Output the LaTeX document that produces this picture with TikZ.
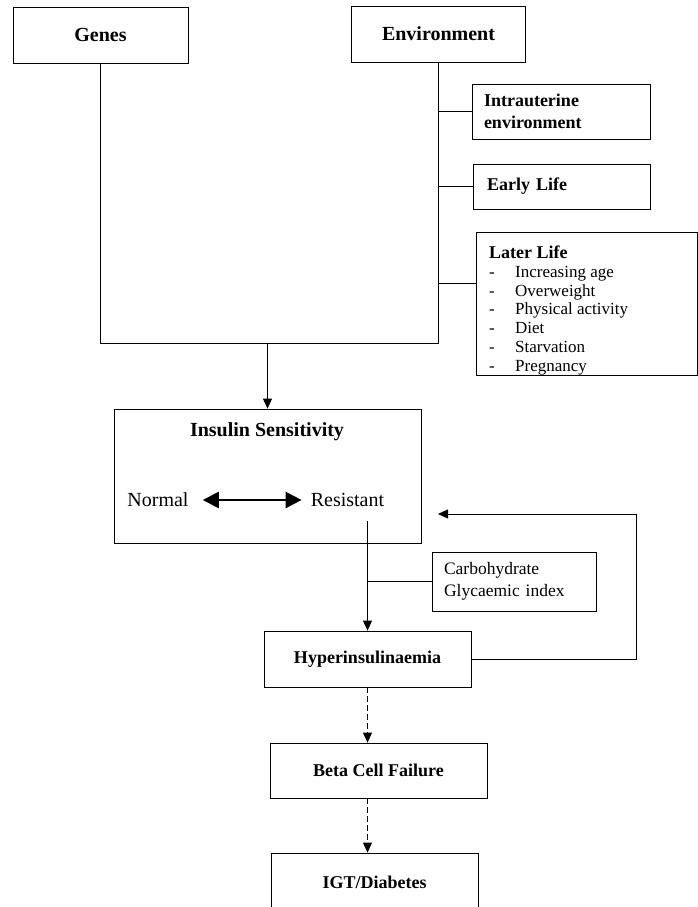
\documentclass[tikz,border=0pt]{standalone}
\usepackage{fontspec}
\setmainfont{Liberation Serif}
\usetikzlibrary{arrows.meta}
\tikzset{
  bx/.style={draw, line width=0.8pt, inner sep=0pt},
  bigbold/.style={font=\fontsize{20}{24}\selectfont\bfseries},
  midbold/.style={font=\fontsize{18}{22}\selectfont\bfseries},
  plaintxt/.style={font=\fontsize{17.5}{22}\selectfont},
  bigplain/.style={font=\fontsize{20}{24}\selectfont},
  ln/.style={line width=0.8pt},
  arr/.style={ln, -{Triangle[length=10pt,width=9pt]}},
  darr/.style={arr, dash pattern=on 6pt off 3pt},
  dbl/.style={line width=2.5pt, {Triangle[length=16pt,width=16pt]}-{Triangle[length=16pt,width=16pt]}}
}
\begin{document}
\begin{tikzpicture}[x=1pt,y=-1pt]
\useasboundingbox (0,0) rectangle (698,907);
\clip (0,0) rectangle (698,907);

% top boxes
\node[bx,bigbold,minimum width=175pt,minimum height=56pt] (genes) at (100.5,35) {Genes};
\node[bx,bigbold,minimum width=174pt,minimum height=56pt] (env) at (438.5,34) {Environment};

% side boxes
\node[bx,midbold,minimum width=178pt,minimum height=55pt,text width=154pt,align=left] (intra) at (561,111.5) {Intrauterine\\environment};
\node[bx,midbold,minimum width=177pt,minimum height=45pt,text width=149pt,align=left] (early) at (561.5,186.5) {Early Life};
\node[bx,minimum width=221pt,minimum height=143pt] (later) at (586.5,303.5) {};
\node[anchor=north west,inner sep=0pt,align=left,font=\fontsize{17}{18.7}\selectfont] (latertxt) at (489,246)
  {\textbf{\fontsize{18}{18.7}\selectfont Later Life}\\
   \makebox[26pt][l]{-}Increasing age\\
   \makebox[26pt][l]{-}Overweight\\
   \makebox[26pt][l]{-}Physical activity\\
   \makebox[26pt][l]{-}Diet\\
   \makebox[26pt][l]{-}Starvation\\
   \makebox[26pt][l]{-}Pregnancy};

% junction coordinates
\coordinate (jl) at (100.5,343);
\coordinate (jr) at (438.5,343);
\coordinate (lc) at (476,283);

\draw[ln] (genes.south) -- (jl) -- (jr) -- (env.south);
\draw[ln] (intra.west -| jr) -- (intra.west);
\draw[ln] (early.west -| jr) -- (early.west);
\draw[ln] (lc -| jr) -- (lc);

% insulin sensitivity
\node[bx,minimum width=307pt,minimum height=134pt] (insulin) at (267.5,476) {};
\node[bigbold,inner sep=0pt] (ititle) at (267,432) {Insulin Sensitivity};
\node[bigplain,inner sep=0pt] (normal) at (158,500) {Normal};
\node[bigplain,inner sep=0pt] (resist) at (347.5,500) {Resistant};
\draw[dbl] ([xshift=14pt]normal.east) -- ([xshift=-9pt]resist.west);

\draw[arr] (insulin.north |- jl) -- (insulin.north);

% carbohydrate & hyperinsulinaemia
\coordinate (rb) at (367.5,521);
\node[bx,plaintxt,minimum width=164pt,minimum height=59pt,text width=140pt,align=left] (carb) at (514,581.5) {Carbohydrate\\Glycaemic index};
\node[bx,midbold,minimum width=207pt,minimum height=56pt] (hyper) at (367.5,659) {Hyperinsulinaemia};
\draw[arr] (rb) -- (rb |- hyper.north);
\draw[ln] (carb.west -| rb) -- (carb.west);

% feedback
\coordinate (fbx) at (636,514);
\coordinate (fbt) at (438,514);
\draw[arr] (hyper.east) -| (fbx) -- (fbt);

% lower chain
\node[bx,midbold,minimum width=217pt,minimum height=55pt] (beta) at (378.5,770.5) {Beta Cell Failure};
\node[bx,midbold,minimum width=207pt,minimum height=58pt] (igt) at (374.5,882) {IGT/Diabetes};
\draw[darr] (hyper.south) -- (hyper.south |- beta.north);
\draw[darr] (hyper.south |- beta.south) -- (hyper.south |- igt.north);
\end{tikzpicture}
\end{document}
